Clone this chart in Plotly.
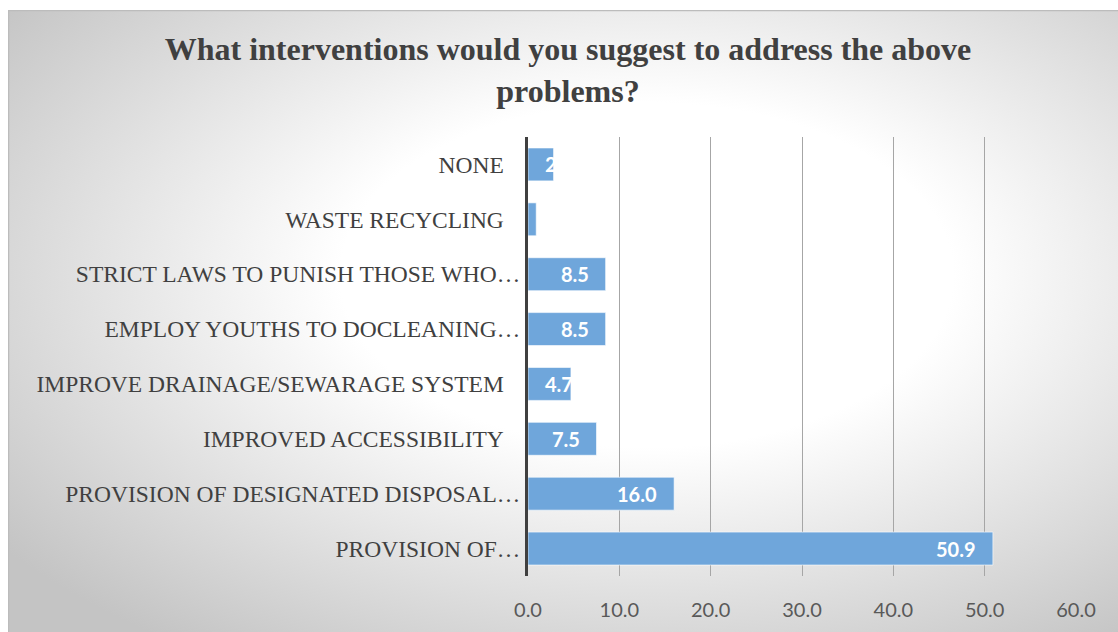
import base64
import plotly.graph_objects as go

# Survey responses (percent), listed bottom-to-top as drawn
categories = [
    "PROVISION OF…",
    "PROVISION OF DESIGNATED DISPOSAL…",
    "IMPROVED ACCESSIBILITY",
    "IMPROVE DRAINAGE/SEWARAGE SYSTEM",
    "EMPLOY YOUTHS TO DOCLEANING…",
    "STRICT LAWS TO PUNISH THOSE WHO…",
    "WASTE RECYCLING",
    "NONE",
]
percent = [50.9, 16.0, 7.5, 4.7, 8.5, 8.5, 0.9, 2.8]
x_ticks = [0, 10, 20, 30, 40, 50, 60]

W, H = 1118, 632
ML, MR, MT, MB = 528, 42, 137, 56
PW, PH = W - ML - MR, H - MT - MB

# Radial grey-to-white chart background with a thin frame
svg = f"""<svg xmlns='http://www.w3.org/2000/svg' width='1110' height='622' viewBox='0 0 1110 622' preserveAspectRatio='none'>
<defs><radialGradient id='g' cx='0.57' cy='0.42' r='0.72'>
<stop offset='0' stop-color='rgb(255,255,255)'/>
<stop offset='0.38' stop-color='rgb(255,255,255)'/>
<stop offset='1' stop-color='rgb(196,196,196)'/>
</radialGradient></defs>
<rect x='0.5' y='0.5' width='1120' height='630' fill='url(#g)' stroke='rgb(188,188,188)' stroke-width='1.5'/>
</svg>"""
bg_src = "data:image/svg+xml;base64," + base64.b64encode(svg.encode()).decode()

# Non-truncated category names get a little trailing room, as in the source layout
tick_text = [c if c.endswith("…") else c + "\u00a0\u00a0\u2009" for c in categories]

fig = go.Figure(
    go.Bar(
        x=percent,
        y=categories,
        orientation="h",
        marker=dict(color="#6fa6db", line=dict(color="rgba(255,255,255,0.6)", width=1)),
        hoverinfo="skip",
    )
)

# Value labels inside the bar ends (pushed to the left edge when the bar is short)
px_per_unit = PW / (x_ticks[-1] - x_ticks[0])
label_font = dict(family="Lato", size=20, color="white", weight="bold")
for cat, v in zip(categories, percent):
    if v * px_per_unit - 16 - 31 < 15:
        fig.add_annotation(x=0, y=cat, xref="x", yref="y", text=f"{v:.1f}",
                           xanchor="left", xshift=15, yanchor="middle", showarrow=False,
                           font=label_font)
    else:
        fig.add_annotation(x=v, y=cat, xref="x", yref="y", text=f"{v:.1f}",
                           xanchor="right", xshift=-15, yanchor="middle", showarrow=False,
                           font=label_font)

fig.update_layout(
    width=W,
    height=H,
    margin=dict(l=ML, r=MR, t=MT, b=MB, pad=0),
    paper_bgcolor="white",
    plot_bgcolor="rgba(0,0,0,0)",
    bargap=0.4,
    showlegend=False,
    title=dict(
        text="What interventions would you suggest to address the above<br>problems?",
        x=568 / W,
        xanchor="center",
        xref="container",
        y=1 - 60 / H,
        yanchor="top",
        yref="container",
        font=dict(family="Liberation Serif", size=32, color="#404040", weight="bold"),
    ),
    images=[dict(
        source=bg_src,
        xref="paper", yref="paper",
        x=(8 - ML) / PW, y=1 + (MT - 10) / PH,
        sizex=(W - 8) / PW, sizey=(H - 10) / PH,
        xanchor="left", yanchor="top",
        sizing="stretch", layer="below",
    )],
    xaxis=dict(
        range=[x_ticks[0], x_ticks[-1]],
        tickvals=x_ticks,
        ticktext=[f"{t:.1f}" for t in x_ticks],
        showgrid=True,
        gridcolor="#a6a6a6",
        gridwidth=1,
        zeroline=False,
        showline=False,
        ticks="",
        ticklabelstandoff=20,
        tickfont=dict(family="Lato", size=20, color="#595959"),
        fixedrange=True,
    ),
    yaxis=dict(
        categoryorder="array",
        categoryarray=categories,
        tickvals=categories,
        ticktext=tick_text,
        showline=True,
        linecolor="#404040",
        linewidth=3,
        showgrid=False,
        zeroline=False,
        ticks="",
        ticklabelstandoff=0,
        tickfont=dict(family="Liberation Serif", size=23.5, color="#404040"),
        fixedrange=True,
    ),
)

fig.write_html("out.html")
